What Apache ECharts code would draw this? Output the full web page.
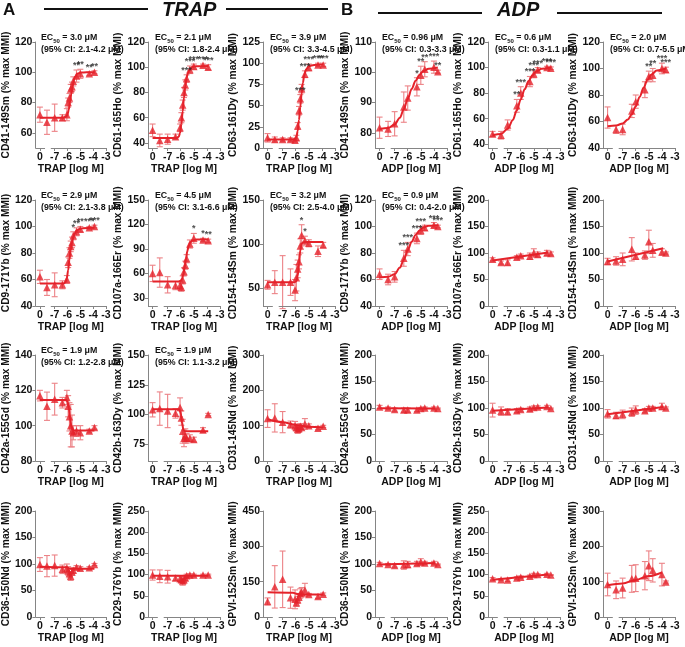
<!DOCTYPE html>
<html>
<head>
<meta charset="utf-8">
<script src="https://cdn.jsdelivr.net/npm/echarts@6/dist/echarts.min.js"></script>
<style>
html,body{margin:0;padding:0;background:#fff;}
#chart{width:685px;height:647px;}
</style>
</head>
<body>
<div id="chart"></div>
<script>
// ---------- shared x positions (log M; the control "0" is drawn left of the axis break) ----------
const trapX = [-8.15, -7.6, -7, -6.4, -6.05, -5.95, -5.85, -5.75, -5.65, -5.55, -5.3, -5, -4.3, -3.9];
const adpX  = [-8.15, -7.5, -7, -6.3, -6, -5.3, -5, -4.7, -4, -3.7];
const xTickValues = [-8.15, -7, -6, -5, -4, -3];
const xTickLabels = ['0', '-7', '-6', '-5', '-4', '-3'];

// ---------- y tick labels ----------
const ticks60to120 = [60, 80, 100, 120];
const ticks40to120 = [40, 60, 80, 100, 120];
const ticks0to125 = [0, 25, 50, 75, 100, 125];
const ticks80to110 = [80, 90, 100, 110];
const ticks30to150 = [30, 60, 90, 120, 150];
const ticks50to150 = [50, 100, 150];
const ticks80to140 = [80, 100, 120, 140];
const ticks75to150 = [75, 100, 125, 150];
const ticks0to300 = [0, 100, 200, 300];
const ticks0to200 = [0, 50, 100, 150, 200];
const ticks0to250 = [0, 50, 100, 150, 200, 250];
const ticks0to450 = [0, 150, 300, 450];

// ---------- Row 1 ----------
const p1Mean = [72, 67, 70, 70, 72, 80, 83, 89, 90.5, 94, 97.5, 99, 99, 100];
const p1Err  = [5, 8, 9, 2, 4, 3, 3, 3, 3, 3, 4, 3, 1, 1];
const p1Stars = ['', '', '', '', '', '', '', '', '', '', '**', '**', '**', '**'];
const p1FitX = [-8.15, -6.3, -6.1, -6.0, -5.9, -5.8, -5.7, -5.6, -5.5, -5.4, -5.2, -5.0, -4.5, -3.9];
const p1FitY = [70, 70, 70.8, 72, 75.5, 80.5, 86, 91, 94.8, 97.2, 99.2, 99.8, 100, 100];

const p2Mean = [50, 42, 43, 45, 52, 60, 70, 80, 86, 91, 98, 100.5, 101.5, 100];
const p2Err  = [5, 5, 4, 2, 3, 4, 4, 4, 4, 3, 3, 2, 1, 2];
const p2Stars = ['', '', '', '', '', '', '', '', '', '***', '***', '***', '***', '***'];
const p2FitX = [-8.15, -6.3, -6.15, -6.05, -5.95, -5.85, -5.75, -5.65, -5.55, -5.45, -5.3, -5.1, -4.8, -3.9];
const p2FitY = [44, 44, 45, 48, 55, 65, 76, 85, 91.5, 95.5, 98.5, 100.3, 100.8, 101];

const p3Mean = [12, 10, 10, 10, 9, 12, 26, 44, 58, 70, 87, 95, 98, 98];
const p3Err  = [5, 3, 2, 2, 2, 3, 4, 5, 5, 5, 4, 4, 2, 2];
const p3Stars = ['', '', '', '', '', '', '', '', '***', '', '***', '***', '***', '***'];
const p3FitX = [-8.15, -6.2, -6.05, -5.95, -5.85, -5.75, -5.65, -5.55, -5.45, -5.35, -5.2, -5.0, -4.6, -3.9];
const p3FitY = [10, 10, 10.5, 13, 20, 33, 49, 64, 77, 86, 93, 96.5, 98, 98.5];

const p4Mean = [81.7, 81.3, 83, 88.5, 91.5, 95.2, 99, 101, 101.7, 100.2];
const p4Err  = [3.5, 2.5, 4, 5, 4, 3, 3, 2.5, 2, 0.5];
const p4Stars = ['', '', '', '', '', '*', '**', '**', '***', '**'];
const p4FitX = [-8.15, -7.5, -7.0, -6.6, -6.3, -6.0, -5.7, -5.4, -5.1, -4.8, -4.4, -3.7];
const p4FitY = [81.3, 81.6, 82.8, 85, 87.8, 91.2, 94.5, 97.2, 99.2, 100.4, 101.2, 101.6];

const p5Mean = [48, 47, 55, 70, 80, 89, 95, 98, 100, 99.5];
const p5Err  = [2, 3, 4, 5, 5, 4, 3, 2, 1, 1];
const p5Stars = ['', '', '', '**', '***', '***', '***', '***', '***', '***'];
const p5FitX = [-8.15, -7.5, -7.0, -6.6, -6.3, -6.0, -5.7, -5.4, -5.1, -4.8, -4.4, -3.7];
const p5FitY = [47, 48, 52, 59, 66.5, 75, 83, 89.5, 94, 97, 99, 100];

const p6Mean = [63, 54, 54, 68, 75, 84, 94, 95, 100, 99];
const p6Err  = [8, 3, 4, 5, 5, 6, 4, 5, 4, 2];
const p6Stars = ['', '', '', '', '', '', '**', '**', '***', '***'];
const p6FitX = [-8.15, -7.5, -7.0, -6.6, -6.3, -6.0, -5.7, -5.4, -5.1, -4.8, -4.4, -3.7];
const p6FitY = [56.5, 57, 58.5, 61.5, 65.5, 71.5, 78.5, 85.5, 91.5, 95.5, 98.5, 100];

// ---------- Row 2 ----------
const p7Mean = [62, 54, 56, 56, 60, 73, 80, 85, 88, 93, 96, 98, 99, 100];
const p7Err  = [5, 6, 9, 3, 3, 4, 4, 4, 4, 3, 3, 2, 1, 1];
const p7Stars = ['', '', '', '', '', '', '', '', '', '*', '**', '**', '***', '***'];
const p7FitX = [-8.15, -6.3, -6.15, -6.05, -5.95, -5.85, -5.75, -5.65, -5.55, -5.45, -5.3, -5.1, -4.8, -3.9];
const p7FitY = [57, 57, 58, 61, 67, 75, 82.5, 88, 92, 94.5, 96.8, 98, 98.7, 99];

const p8Mean = [60, 61, 46, 45, 45, 43, 52, 62, 70, 78, 96, 103, 101, 100];
const p8Err  = [10, 18, 10, 5, 5, 5, 5, 5, 5, 5, 5, 6, 2, 2];
const p8Stars = ['', '', '', '', '', '', '', '', '', '', '', '*', '*', '**'];
const p8FitX = [-8.15, -6.2, -6.0, -5.9, -5.8, -5.7, -5.6, -5.5, -5.4, -5.3, -5.1, -4.8, -3.9];
const p8FitY = [50, 50, 51, 53.5, 59, 68, 78, 87, 93.5, 97.5, 100.5, 101.5, 101.5];

const p9Mean = [54, 57, 57, 57, 48, 62, 72, 80, 98, 110, 104, 101, 92, 99];
const p9Err  = [5, 13, 30, 15, 12, 15, 10, 8, 8, 12, 5, 4, 6, 3];
const p9Stars = ['', '', '', '', '', '', '', '', '', '*', '*', '', '', ''];
const p9FitX = [-8.15, -6.1, -5.95, -5.85, -5.75, -5.65, -5.55, -5.45, -5.3, -3.9];
const p9FitY = [57, 57, 58, 64, 78, 93, 100.5, 102, 102.5, 102.5];

const p10Mean = [64, 60, 62, 76, 83, 91, 97, 99, 101, 100];
const p10Err  = [4, 4, 4, 6, 5, 4, 3, 2, 2, 1];
const p10Stars = ['', '', '', '***', '***', '***', '***', '', '***', '***'];
const p10FitX = [-8.15, -7.5, -7.0, -6.6, -6.3, -6.0, -5.7, -5.4, -5.1, -4.8, -4.4, -3.7];
const p10FitY = [61.5, 62, 64, 69, 75, 82, 88.5, 93.5, 97, 99.2, 100.5, 101];

const p11Mean = [88, 82, 82, 92, 95, 94, 100, 97, 100, 99];
const p11Err  = [3, 3, 5, 3, 3, 6, 8, 5, 5, 3];
const p11FitX = [-8.15, -3.9];
const p11FitY = [86, 101];

const p12Mean = [84, 85, 88, 107, 94, 96, 121, 105, 102, 100];
const p12Err  = [6, 8, 12, 22, 6, 8, 22, 13, 6, 2];
const p12FitX = [-8.15, -3.9];
const p12FitY = [84, 109];

// ---------- Row 3 ----------
const p13Mean = [117, 111, 115, 113, 116, 111, 105, 100, 97, 96, 97, 96, 97, 99];
const p13Err  = [3, 8, 9, 3, 4, 6, 8, 12, 9, 4, 3, 4, 1, 1];
const p13FitX = [-8.15, -6.1, -6.0, -5.9, -5.8, -5.7, -5.6, -5.5, -3.9];
const p13FitY = [114.5, 114.5, 113.5, 110, 104, 99.5, 97.8, 97.3, 97.3];

const p14Mean = [104, 105, 103, 101, 106, 97, 86, 80, 82, 80, 80, 79, 87, 100];
const p14Err  = [6, 14, 14, 4, 8, 6, 10, 7, 6, 4, 3, 2, 2, 1];
const p14FitX = [-8.15, -6.1, -6.0, -5.9, -5.8, -5.7, -3.9];
const p14FitY = [104.5, 104.5, 101, 93, 87.5, 86, 86];

const p15Mean = [120, 122, 110, 103, 100, 95, 90, 92, 98, 95, 105, 100, 93, 98];
const p15Err  = [25, 40, 30, 10, 12, 10, 12, 10, 8, 6, 15, 5, 5, 3];
const p15FitX = [-8.15, -7, -6, -5, -3.9];
const p15FitY = [118, 110, 102, 97, 95];

const p16Mean = [102, 100, 97, 96, 96, 96, 99, 100, 100, 99];
const p16Err  = [3, 2, 3, 4, 4, 3, 2, 2, 2, 1];
const p16FitX = [-8.15, -3.9];
const p16FitY = [99.5, 99];

const p17Mean = [96, 94, 93, 95, 97, 98, 101, 102, 103, 99];
const p17Err  = [13, 8, 6, 4, 3, 4, 3, 2, 2, 1];
const p17FitX = [-8.15, -3.9];
const p17FitY = [95, 101];

const p18Mean = [89, 86, 88, 92, 96, 95, 100, 100, 103, 100];
const p18Err  = [8, 6, 8, 8, 8, 4, 3, 3, 6, 2];
const p18FitX = [-8.15, -3.9];
const p18FitY = [88, 102];

// ---------- Row 4 ----------
const p19Mean = [99, 96, 97, 90, 92, 87, 82, 77, 85, 88, 94, 92, 93, 99];
const p19Err  = [13, 20, 20, 8, 8, 8, 8, 8, 6, 5, 3, 3, 2, 2];
const p19FitX = [-8.15, -6.1, -5.9, -5.7, -3.9];
const p19FitY = [95, 94, 92, 91, 91];

const p20Mean = [99, 96, 95, 92, 90, 88, 85, 88, 92, 97, 99, 99, 99, 99];
const p20Err  = [12, 15, 15, 6, 6, 7, 10, 8, 6, 4, 3, 2, 2, 2];
const p20FitX = [-8.15, -3.9];
const p20FitY = [97, 97];

const p21Mean = [66, 128, 160, 82, 75, 60, 73, 85, 100, 105, 115, 95, 87, 97];
const p21Err  = [15, 90, 120, 45, 40, 15, 15, 15, 20, 20, 28, 5, 8, 5];
const p21FitX = [-8.15, -6.2, -5.9, -5.6, -3.9];
const p21FitY = [105, 103, 98, 95, 95];

const p22Mean = [101, 99, 97, 98, 99, 101, 104, 102, 102, 99];
const p22Err  = [2, 2, 3, 8, 6, 4, 6, 3, 3, 1];
const p22FitX = [-8.15, -3.9];
const p22FitY = [99, 102];

const p23Mean = [90, 88, 87, 92, 94, 96, 100, 100, 101, 99];
const p23Err  = [3, 2, 3, 3, 3, 3, 3, 2, 2, 1];
const p23FitX = [-8.15, -3.9];
const p23FitY = [88, 100];

const p24Mean = [92, 77, 82, 108, 110, 117, 145, 132, 120, 99];
const p24Err  = [32, 25, 28, 38, 38, 40, 42, 33, 32, 3];
const p24FitX = [-8.15, -7, -6, -5, -4];
const p24FitY = [90, 95, 105, 116, 126];

// ---------- panel definitions ----------
const panels = [
  {row:0,col:0,ag:'TRAP',x:trapX,mean:p1Mean,err:p1Err,stars:p1Stars,fx:p1FitX,fy:p1FitY,yMin:50,yMax:120,ticks:ticks60to120,name:'CD41-149Sm',ec:'3.0',ci:'2.1-4.2'},
  {row:0,col:1,ag:'TRAP',x:trapX,mean:p2Mean,err:p2Err,stars:p2Stars,fx:p2FitX,fy:p2FitY,yMin:36,yMax:120,ticks:ticks40to120,name:'CD61-165Ho',ec:'2.1',ci:'1.8-2.4'},
  {row:0,col:2,ag:'TRAP',x:trapX,mean:p3Mean,err:p3Err,stars:p3Stars,fx:p3FitX,fy:p3FitY,yMin:0,yMax:125,ticks:ticks0to125,name:'CD63-161Dy',ec:'3.9',ci:'3.3-4.5'},
  {row:0,col:3,ag:'ADP',x:adpX,mean:p4Mean,err:p4Err,stars:p4Stars,fx:p4FitX,fy:p4FitY,yMin:75,yMax:110,ticks:ticks80to110,name:'CD41-149Sm',ec:'0.96',ci:'0.3-3.3'},
  {row:0,col:4,ag:'ADP',x:adpX,mean:p5Mean,err:p5Err,stars:p5Stars,fx:p5FitX,fy:p5FitY,yMin:37,yMax:120,ticks:ticks40to120,name:'CD61-165Ho',ec:'0.6',ci:'0.3-1.1'},
  {row:0,col:5,ag:'ADP',x:adpX,mean:p6Mean,err:p6Err,stars:p6Stars,fx:p6FitX,fy:p6FitY,yMin:40,yMax:120,ticks:ticks40to120,name:'CD63-161Dy',ec:'2.0',ci:'0.7-5.5'},

  {row:1,col:0,ag:'TRAP',x:trapX,mean:p7Mean,err:p7Err,stars:p7Stars,fx:p7FitX,fy:p7FitY,yMin:40,yMax:120,ticks:ticks40to120,name:'CD9-171Yb',ec:'2.9',ci:'2.1-3.8'},
  {row:1,col:1,ag:'TRAP',x:trapX,mean:p8Mean,err:p8Err,stars:p8Stars,fx:p8FitX,fy:p8FitY,yMin:20,yMax:150,ticks:ticks30to150,name:'CD107a-166Er',ec:'4.5',ci:'3.1-6.6'},
  {row:1,col:2,ag:'TRAP',x:trapX,mean:p9Mean,err:p9Err,stars:p9Stars,fx:p9FitX,fy:p9FitY,yMin:30,yMax:150,ticks:ticks50to150,name:'CD154-154Sm',ec:'3.2',ci:'2.5-4.0'},
  {row:1,col:3,ag:'ADP',x:adpX,mean:p10Mean,err:p10Err,stars:p10Stars,fx:p10FitX,fy:p10FitY,yMin:40,yMax:120,ticks:ticks40to120,name:'CD9-171Yb',ec:'0.9',ci:'0.4-2.0'},
  {row:1,col:4,ag:'ADP',x:adpX,mean:p11Mean,err:p11Err,stars:null,fx:p11FitX,fy:p11FitY,yMin:0,yMax:200,ticks:ticks0to200,name:'CD107a-166Er'},
  {row:1,col:5,ag:'ADP',x:adpX,mean:p12Mean,err:p12Err,stars:null,fx:p12FitX,fy:p12FitY,yMin:0,yMax:200,ticks:ticks0to200,name:'CD154-154Sm'},

  {row:2,col:0,ag:'TRAP',x:trapX,mean:p13Mean,err:p13Err,stars:null,fx:p13FitX,fy:p13FitY,yMin:80,yMax:140,ticks:ticks80to140,name:'CD42a-155Gd',ec:'1.9',ci:'1.2-2.8'},
  {row:2,col:1,ag:'TRAP',x:trapX,mean:p14Mean,err:p14Err,stars:null,fx:p14FitX,fy:p14FitY,yMin:61,yMax:150,ticks:ticks75to150,name:'CD42b-163Dy',ec:'1.9',ci:'1.1-3.2'},
  {row:2,col:2,ag:'TRAP',x:trapX,mean:p15Mean,err:p15Err,stars:null,fx:p15FitX,fy:p15FitY,yMin:0,yMax:300,ticks:ticks0to300,name:'CD31-145Nd'},
  {row:2,col:3,ag:'ADP',x:adpX,mean:p16Mean,err:p16Err,stars:null,fx:p16FitX,fy:p16FitY,yMin:0,yMax:200,ticks:ticks0to200,name:'CD42a-155Gd'},
  {row:2,col:4,ag:'ADP',x:adpX,mean:p17Mean,err:p17Err,stars:null,fx:p17FitX,fy:p17FitY,yMin:0,yMax:200,ticks:ticks0to200,name:'CD42b-163Dy'},
  {row:2,col:5,ag:'ADP',x:adpX,mean:p18Mean,err:p18Err,stars:null,fx:p18FitX,fy:p18FitY,yMin:0,yMax:200,ticks:ticks0to200,name:'CD31-145Nd'},

  {row:3,col:0,ag:'TRAP',x:trapX,mean:p19Mean,err:p19Err,stars:null,fx:p19FitX,fy:p19FitY,yMin:0,yMax:200,ticks:ticks0to200,name:'CD36-150Nd'},
  {row:3,col:1,ag:'TRAP',x:trapX,mean:p20Mean,err:p20Err,stars:null,fx:p20FitX,fy:p20FitY,yMin:0,yMax:250,ticks:ticks0to250,name:'CD29-176Yb'},
  {row:3,col:2,ag:'TRAP',x:trapX,mean:p21Mean,err:p21Err,stars:null,fx:p21FitX,fy:p21FitY,yMin:0,yMax:450,ticks:ticks0to450,name:'GPVI-152Sm'},
  {row:3,col:3,ag:'ADP',x:adpX,mean:p22Mean,err:p22Err,stars:null,fx:p22FitX,fy:p22FitY,yMin:0,yMax:200,ticks:ticks0to200,name:'CD36-150Nd'},
  {row:3,col:4,ag:'ADP',x:adpX,mean:p23Mean,err:p23Err,stars:null,fx:p23FitX,fy:p23FitY,yMin:0,yMax:250,ticks:ticks0to250,name:'CD29-176Yb'},
  {row:3,col:5,ag:'ADP',x:adpX,mean:p24Mean,err:p24Err,stars:null,fx:p24FitX,fy:p24FitY,yMin:0,yMax:300,ticks:ticks0to300,name:'GPVI-152Sm'}
];

// ---------- layout & style ----------
const FONT = '"Liberation Sans", Arial, Helvetica, sans-serif';
const RED = '#e5222a';
const PINK = '#ec8286';
const AXIS = '#858585';
const colLeft = [34, 148, 263, 375, 488, 603];
const rowTop = [42, 200, 355, 511];
const gridW = 72, gridH = 106;
const X_MIN = -8.5, X_MAX = -3, BREAK_A = -7.75, BREAK_B = -7.3;

const grids = [], xAxes = [], yAxes = [], series = [], titles = [];

panels.forEach((p, i) => {
  const left = colLeft[p.col], top = rowTop[p.row];
  grids.push({left: left, top: top, width: gridW, height: gridH});
  xAxes.push({
    gridIndex: i, type: 'value', min: X_MIN, max: X_MAX,
    axisLine: {show: false}, splitLine: {show: false},
    axisTick: {show: true, customValues: xTickValues, length: 3, lineStyle: {color: AXIS}},
    axisLabel: {customValues: xTickValues, margin: 4,
      formatter: v => xTickLabels[xTickValues.indexOf(v)] ?? '',
      fontFamily: FONT, fontWeight: 'bold', fontSize: 10.5, color: '#111'},
    name: p.ag + ' [log M]', nameLocation: 'middle', nameGap: 15,
    nameTextStyle: {fontFamily: FONT, fontWeight: 'bold', fontSize: 10.5, color: '#111'}
  });
  yAxes.push({
    gridIndex: i, type: 'value', min: p.yMin, max: p.yMax,
    axisLine: {show: true, lineStyle: {color: AXIS, width: 1}}, splitLine: {show: false},
    axisTick: {show: true, customValues: p.ticks, length: 3, lineStyle: {color: AXIS}},
    axisLabel: {customValues: p.ticks, margin: 3, fontFamily: FONT, fontWeight: 'bold', fontSize: 10.5, color: '#111'},
    name: p.name + ' (% max MMI)', nameLocation: 'middle', nameGap: 20,
    nameTextStyle: {fontFamily: FONT, fontWeight: 'bold', fontSize: 10.2, color: '#111'}
  });

  // error bars
  series.push({
    type: 'custom', xAxisIndex: i, yAxisIndex: i, silent: true, z: 1, clip: false,
    data: p.x.map((xv, k) => [xv, p.mean[k] - p.err[k], p.mean[k] + p.err[k]]),
    encode: {x: 0, y: [1, 2]},
    renderItem: (params, api) => {
      const lo = api.coord([api.value(0), api.value(1)]);
      const hi = api.coord([api.value(0), api.value(2)]);
      const w = 3, st = {stroke: PINK, lineWidth: 1.1};
      return {type: 'group', children: [
        {type: 'line', shape: {x1: lo[0], y1: lo[1], x2: hi[0], y2: hi[1]}, style: st},
        {type: 'line', shape: {x1: lo[0] - w, y1: lo[1], x2: lo[0] + w, y2: lo[1]}, style: st},
        {type: 'line', shape: {x1: hi[0] - w, y1: hi[1], x2: hi[0] + w, y2: hi[1]}, style: st}
      ]};
    }
  });
  // fit curve (+ broken x axis line drawn in axis coordinates)
  series.push({
    type: 'line', xAxisIndex: i, yAxisIndex: i, silent: true, z: 2, clip: false,
    data: p.fx.map((xv, k) => [xv, p.fy[k]]),
    showSymbol: false, smooth: 0.35, smoothMonotone: 'x',
    lineStyle: {color: RED, width: 2},
    markLine: {
      silent: true, symbol: 'none', label: {show: false},
      lineStyle: {color: AXIS, type: 'solid', width: 1},
      data: [
        [{coord: [X_MIN, p.yMin]}, {coord: [BREAK_A, p.yMin]}],
        [{coord: [BREAK_B, p.yMin]}, {coord: [X_MAX, p.yMin]}]
      ]
    }
  });
  // points
  series.push({
    type: 'scatter', xAxisIndex: i, yAxisIndex: i, silent: true, z: 3,
    symbol: 'triangle', symbolSize: 7.5,
    itemStyle: {color: RED},
    data: p.x.map((xv, k) => [xv, p.mean[k]])
  });
  // significance stars
  if (p.stars) {
    series.push({
      type: 'scatter', xAxisIndex: i, yAxisIndex: i, silent: true, z: 4,
      symbolSize: 0,
      data: p.x.map((xv, k) => [xv, p.mean[k] + p.err[k], p.stars[k]]).filter(d => d[2]),
      label: {show: true, position: 'top', distance: 0, formatter: q => q.value[2],
        fontFamily: FONT, fontWeight: 'bold', fontSize: 9, color: '#222'}
    });
  }
  if (p.ec) {
    titles.push({
      left: left + 2, top: top - 15,
      text: '{b|EC}{s|50}{b| = ' + p.ec + ' \u03bcM}\n{b|(95% CI: ' + p.ci + ' \u03bcM)}',
      textStyle: {rich: {
        b: {fontFamily: FONT, fontWeight: 'bold', fontSize: 8.8, color: '#111', lineHeight: 12},
        s: {fontFamily: FONT, fontWeight: 'bold', fontSize: 6, color: '#111', lineHeight: 12, verticalAlign: 'bottom', padding: [4, 0, 0, 0]}
      }}
    });
  }
});

const chart = echarts.init(document.getElementById('chart'), null, {renderer: 'canvas'});
chart.setOption({
  animation: false,
  backgroundColor: '#fff',
  title: titles,
  grid: grids, xAxis: xAxes, yAxis: yAxes, series: series,
  graphic: [
    {type: 'text', left: 3, top: 2, style: {text: 'A', font: 'bold 17px ' + FONT, fill: '#111'}},
    {type: 'line', shape: {x1: 44, y1: 9, x2: 148, y2: 9}, style: {stroke: '#111', lineWidth: 2}},
    {type: 'text', left: 162, top: 0, style: {text: 'TRAP', font: 'italic bold 20px ' + FONT, fill: '#111'}},
    {type: 'line', shape: {x1: 226, y1: 9, x2: 328, y2: 9}, style: {stroke: '#111', lineWidth: 2}},
    {type: 'text', left: 341, top: 2, style: {text: 'B', font: 'bold 17px ' + FONT, fill: '#111'}},
    {type: 'line', shape: {x1: 378, y1: 13, x2: 482, y2: 13}, style: {stroke: '#111', lineWidth: 2}},
    {type: 'text', left: 497, top: 0, style: {text: 'ADP', font: 'italic bold 20px ' + FONT, fill: '#111'}},
    {type: 'line', shape: {x1: 557, y1: 13, x2: 662, y2: 13}, style: {stroke: '#111', lineWidth: 2}}
  ]
});
</script>
</body>
</html>
